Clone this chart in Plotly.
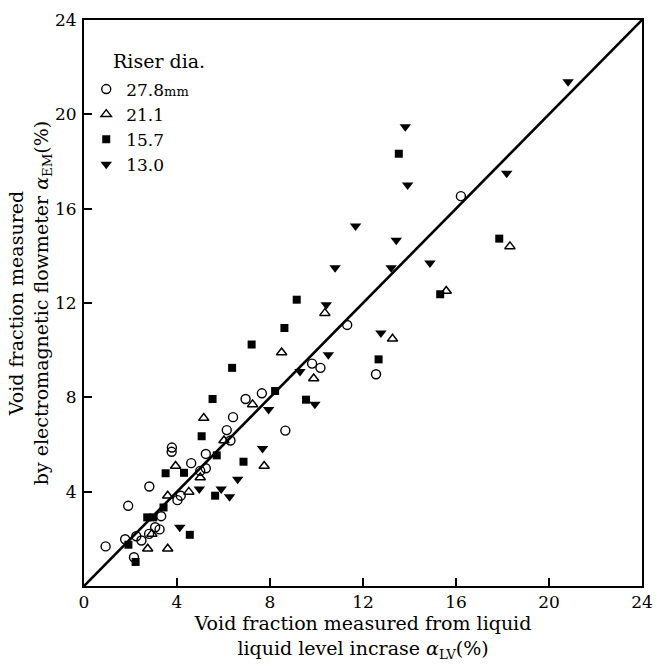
import plotly.graph_objects as go

# Riser dia. 27.8 mm (open circles)
c_x = [0.93, 1.90, 1.77, 2.15, 2.25, 2.47, 2.80, 2.81, 3.06, 3.25, 3.32, 3.78, 3.77, 4.02, 4.16,
       4.61, 5.00, 5.24, 5.24, 6.14, 6.30, 6.41, 6.95, 7.65, 8.66, 9.81, 10.17, 11.32, 12.56, 16.21]
c_y = [1.68, 3.40, 1.98, 1.22, 2.11, 1.93, 2.21, 4.22, 2.49, 2.40, 2.96, 5.87, 5.69, 3.64, 3.83,
       5.21, 4.88, 5.60, 4.99, 6.61, 6.17, 7.16, 7.93, 8.17, 6.59, 9.43, 9.25, 11.07, 8.98, 16.53]

# 21.1 mm (open triangles)
t_x = [2.92, 2.74, 3.60, 3.60, 3.94, 4.51, 5.00, 5.15, 6.02, 7.25, 7.75, 8.50, 9.88, 10.36, 13.27, 15.58, 18.32]
t_y = [2.21, 1.58, 1.58, 3.83, 5.09, 3.99, 4.60, 7.12, 6.17, 7.70, 5.09, 9.90, 8.80, 11.57, 10.48, 12.51, 14.40]

# 15.7 mm (filled squares)
s_x = [1.91, 2.22, 2.72, 2.98, 3.42, 3.51, 4.30, 4.55, 5.06, 5.53, 5.71, 5.64, 6.37, 6.86, 8.22,
       7.21, 8.62, 9.15, 9.55, 12.67, 13.54, 15.32, 17.86]
s_y = [1.75, 1.02, 2.91, 2.91, 3.33, 4.78, 4.80, 2.17, 6.35, 7.93, 5.54, 3.83, 9.25, 5.27, 8.27,
       10.24, 10.94, 12.14, 7.90, 9.61, 18.33, 12.37, 14.73]

# 13.0 mm (filled inverted triangles)
d_x = [4.12, 4.96, 5.90, 6.26, 6.61, 7.68, 7.94, 9.29, 9.93, 10.51, 10.80, 10.42, 11.68, 12.77,
       13.21, 13.43, 13.82, 13.92, 14.88, 18.18, 20.82]
d_y = [2.49, 4.11, 4.11, 3.78, 4.53, 5.83, 7.48, 9.10, 7.71, 9.81, 13.49, 11.93, 15.27, 10.73,
       13.49, 14.66, 19.47, 17.00, 13.70, 17.50, 21.38]

line_x = [0, 24]
line_y = [0, 24]

tick_vals = [0, 4, 8, 12, 16, 20, 24]
tick_text = ["0", "4", "8", "12", "16", "20", "24"]
ytick_vals = [4, 8, 12, 16, 20, 24]
ytick_text = ["4", "8", "12", "16", "20", "24"]

FONT = "DejaVu Serif"

fig = go.Figure()
fig.add_trace(go.Scatter(x=line_x, y=line_y, mode="lines", line=dict(color="black", width=2.6),
                         showlegend=False, hoverinfo="skip"))
fig.add_trace(go.Scatter(x=c_x, y=c_y, mode="markers", name="27.8<span style='font-size:13px'>mm</span>",
                         marker=dict(symbol="circle-open", size=9, color="black", line=dict(width=1.4))))
fig.add_trace(go.Scatter(x=t_x, y=t_y, mode="markers", name="21.1",
                         marker=dict(symbol="triangle-up-open", size=9, color="black", line=dict(width=1.5))))
fig.add_trace(go.Scatter(x=s_x, y=s_y, mode="markers", name="15.7",
                         marker=dict(symbol="square", size=8, color="black")))
fig.add_trace(go.Scatter(x=d_x, y=d_y, mode="markers", name="13.0",
                         marker=dict(symbol="triangle-down", size=10, color="black")))

axis_common = dict(range=[0, 24], showgrid=False, zeroline=False, showline=True, linecolor="black",
                   linewidth=2, mirror=True, ticks="inside", ticklen=8, tickwidth=1.5, tickcolor="black",
                   tickfont=dict(family=FONT, size=17, color="black"))

fig.update_layout(
    width=663, height=665,
    margin=dict(l=84, r=10, t=15, b=79),
    paper_bgcolor="white", plot_bgcolor="white",
    font=dict(family=FONT, color="black", size=18),
    xaxis=dict(**axis_common, tickvals=tick_vals, ticktext=tick_text, ticklabelstandoff=0,
               title=dict(text="Void fraction measured from liquid<br>liquid level incrase <i>α</i><sub>LV</sub>(%)",
                          font=dict(family=FONT, size=19), standoff=2)),
    yaxis=dict(**axis_common, tickvals=ytick_vals, ticktext=ytick_text, ticklabelstandoff=2,
               title=dict(text="Void fraction measured<br>by electromagnetic flowmeter <i>α</i><sub>EM</sub>(%)",
                          font=dict(family=FONT, size=19), standoff=0)),
    legend=dict(x=0.004, y=0.909, xanchor="left", yanchor="top", bgcolor="rgba(0,0,0,0)",
                font=dict(family=FONT, size=17), itemwidth=30, tracegroupgap=0),
    showlegend=True,
    annotations=[dict(text="Riser dia.", xref="paper", yref="paper", x=0.049, y=0.927,
                      xanchor="left", yanchor="middle", showarrow=False,
                      font=dict(family=FONT, size=19, color="black"))],
)

fig.write_html("out.html")
